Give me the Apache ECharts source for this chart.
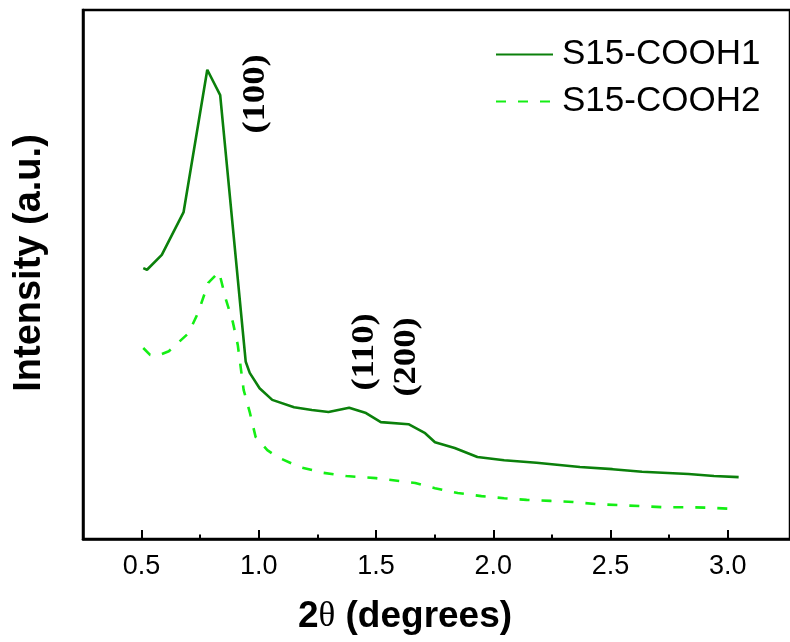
<!DOCTYPE html>
<html>
<head>
<meta charset="utf-8">
<script src="https://cdn.jsdelivr.net/npm/echarts@6/dist/echarts.min.js"></script>
<style>
  html, body { margin: 0; padding: 0; background: #fff; }
  #main { width: 790px; height: 642px; }
</style>
</head>
<body>
<div id="main"></div>
<script>
// 2theta / intensity
var twoTheta1 = [0.507, 0.523, 0.586, 0.679, 0.780, 0.835, 0.944, 0.961, 1.003, 1.057, 1.150, 1.226, 1.297, 1.385, 1.457, 1.520, 1.638, 1.709, 1.751, 1.835, 1.932, 2.046, 2.184, 2.369, 2.508, 2.634, 2.832, 2.941, 3.046];
var intensity1 = [51.2, 50.9, 53.7, 61.8, 88.7, 83.9, 33.5, 31.4, 28.5, 26.3, 24.9, 24.4, 24.0, 24.8, 23.8, 22.1, 21.7, 20.0, 18.3, 17.2, 15.5, 14.9, 14.4, 13.6, 13.2, 12.7, 12.3, 11.9, 11.7];

var twoTheta2 = [0.507, 0.536, 0.565, 0.616, 0.700, 0.742, 0.784, 0.830, 0.860, 0.889, 0.910, 0.923, 0.935, 0.961, 0.986, 1.036, 1.078, 1.175, 1.276, 1.373, 1.499, 1.667, 1.751, 1.848, 1.949, 2.046, 2.142, 2.243, 2.340, 2.437, 2.538, 2.634, 2.731, 2.832, 2.929, 3.013];
var intensity2 = [36.1, 34.8, 34.6, 35.5, 38.9, 42.9, 48.4, 50.5, 45.2, 41.0, 36.7, 32.3, 28.2, 24.0, 19.3, 16.8, 15.5, 13.6, 12.5, 11.9, 11.5, 10.6, 9.6, 8.7, 8.1, 7.7, 7.4, 7.2, 7.0, 6.6, 6.4, 6.2, 6.0, 6.0, 5.9, 5.7];

var seriesNames = ['S15-COOH1', 'S15-COOH2'];
var majorTicks = [0.5, 1.0, 1.5, 2.0, 2.5, 3.0];
var minorTicks = [0.75, 1.25, 1.75, 2.25, 2.75];
var peakLabels = ['(100)', '(110)', '(200)'];

function pairs(xs, ys) {
    var out = [];
    for (var i = 0; i < xs.length; i++) out.push([xs[i], ys[i]]);
    return out;
}

var chart = echarts.init(document.getElementById('main'));
var xMin = 0.25, xMax = 3.265;

var option = {
    animation: false,
    grid: {
        left: 83, top: 10, width: 717, height: 529,
        show: true, borderColor: '#000', borderWidth: 2.5
    },
    legend: {
        orient: 'vertical',
        left: 495, top: 37, padding: 0,
        itemWidth: 57, itemHeight: 14, itemGap: 12,
        itemStyle: { opacity: 0 },
        textStyle: { fontFamily: '"Liberation Sans", Arial', fontSize: 35, color: '#000', lineHeight: 34, padding: [0, 0, 0, 4] },
        data: seriesNames
    },
    xAxis: [{
        type: 'value', min: xMin, max: xMax,
        axisLine: { lineStyle: { color: '#000', width: 2.5 } },
        axisTick: { inside: true, length: 9, lineStyle: { color: '#000', width: 2 }, customValues: majorTicks },
        axisLabel: {
            customValues: majorTicks, margin: 14,
            fontFamily: '"Liberation Sans", Arial', fontSize: 27, color: '#000',
            formatter: function (v) { return v.toFixed(1); }
        },
        splitLine: { show: false }
    }, {
        type: 'value', min: xMin, max: xMax, position: 'bottom',
        axisLine: { show: false },
        axisTick: { inside: true, length: 4.5, lineStyle: { color: '#000', width: 2 }, customValues: minorTicks },
        axisLabel: { show: false },
        splitLine: { show: false }
    }],
    yAxis: {
        type: 'value', min: 0, max: 100,
        axisLine: { show: true, lineStyle: { color: '#000', width: 2.5 } },
        axisTick: { show: false },
        axisLabel: { show: false },
        splitLine: { show: false }
    },
    series: [{
        name: seriesNames[0], type: 'line', symbol: 'none',
        lineStyle: { color: '#0b800b', width: 2.6 },
        itemStyle: { color: '#0b800b' },
        data: pairs(twoTheta1, intensity1)
    }, {
        name: seriesNames[1], type: 'line', symbol: 'none',
        lineStyle: { color: '#14ee14', width: 2.6, type: [10, 12] },
        itemStyle: { color: '#14ee14' },
        data: pairs(twoTheta2, intensity2)
    }],
    graphic: [
        { type: 'text', x: 256, y: 94, rotation: Math.PI / 2, scaleX: 1.18,
          style: { text: peakLabels[0], font: 'bold 31px "Liberation Serif"', fill: '#000', align: 'center', verticalAlign: 'middle' } },
        { type: 'text', x: 365, y: 352, rotation: Math.PI / 2, scaleX: 1.18,
          style: { text: peakLabels[1], font: 'bold 31px "Liberation Serif"', fill: '#000', align: 'center', verticalAlign: 'middle' } },
        { type: 'text', x: 407, y: 357, rotation: Math.PI / 2, scaleX: 1.18,
          style: { text: peakLabels[2], font: 'bold 31px "Liberation Serif"', fill: '#000', align: 'center', verticalAlign: 'middle' } },
        { type: 'text', x: 30, y: 263, rotation: Math.PI / 2,
          style: { text: 'Intensity (a.u.)', font: 'bold 38px "Liberation Sans"', fill: '#000', align: 'center', verticalAlign: 'middle' } },
        { type: 'text', x: 405, y: 617,
          style: {
              text: '{a|2}{b|θ}{a| (degrees)}', align: 'center', verticalAlign: 'middle',
              rich: {
                  a: { font: 'bold 37px "Liberation Sans"', fill: '#000' },
                  b: { font: '35px "Liberation Serif"', fill: '#000' }
              }
          } }
    ]
};
chart.setOption(option);
</script>
</body>
</html>
